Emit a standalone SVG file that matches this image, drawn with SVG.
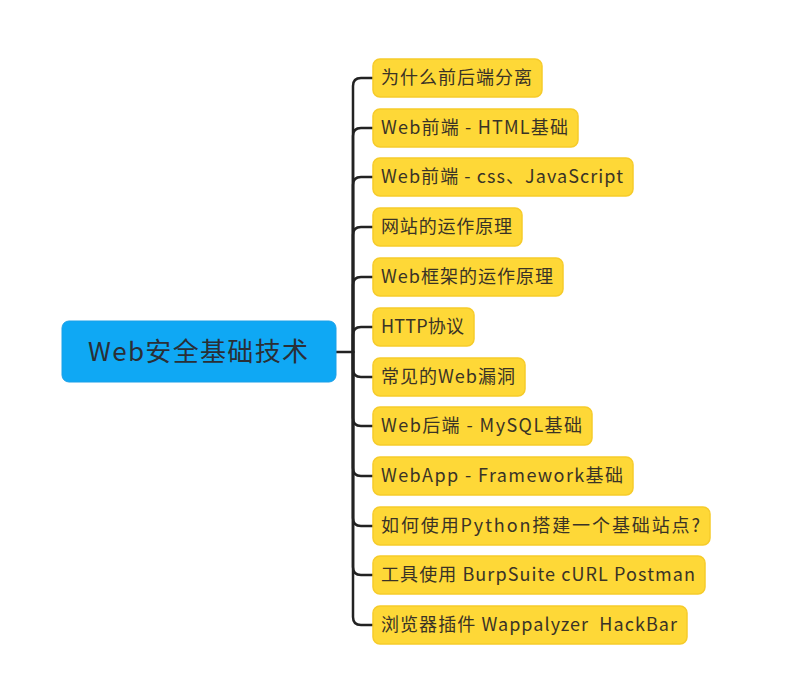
<svg xmlns="http://www.w3.org/2000/svg" width="799" height="697" viewBox="0 0 799 697">
<style>
.n rect{fill:#FED837;stroke:#F6CB2A;stroke-width:1.5}
.n text{font-family:"Noto Sans CJK SC","Noto Sans",sans-serif;font-size:18px;fill:#3a3326}
.root rect{fill:#0FA8F4;stroke:#1BA0E8;stroke-width:1}
.root text{font-family:"Noto Sans CJK SC","Noto Sans",sans-serif;font-size:26px;fill:#2a2f36}
.c path{fill:none;stroke:#222;stroke-width:2.5;stroke-linecap:round}
</style>
<rect width="799" height="697" fill="#fff"/>
<g class="c" id="connectors">
<path d="M336,352 H353"/>
<path d="M353,352 V86 Q353,78 361,78 H373"/>
<path d="M353,352 V136 Q353,128 361,128 H373"/>
<path d="M353,352 V185 Q353,177 361,177 H373"/>
<path d="M353,352 V235 Q353,227 361,227 H373"/>
<path d="M353,352 V285 Q353,277 361,277 H373"/>
<path d="M353,352 V335 Q353,327 361,327 H373"/>
<path d="M353,352 V369 Q353,377 361,377 H373"/>
<path d="M353,352 V418 Q353,426 361,426 H373"/>
<path d="M353,352 V468 Q353,476 361,476 H373"/>
<path d="M353,352 V518 Q353,526 361,526 H373"/>
<path d="M353,352 V567 Q353,575 361,575 H373"/>
<path d="M353,352 V617 Q353,625 361,625 H373"/>
</g>
<g class="root" id="root"><rect x="62" y="321" width="274" height="61" rx="7"/><text x="88" y="361" textLength="220" lengthAdjust="spacing">Web安全基础技术</text></g>
<g class="n" id="n1"><rect x="373" y="59" width="169" height="38" rx="7"/><text x="381" y="84" textLength="151" lengthAdjust="spacing">为什么前后端分离</text></g>
<g class="n" id="n2"><rect x="373" y="109" width="205" height="38" rx="7"/><text x="381" y="134" textLength="187" lengthAdjust="spacing">Web前端 - HTML基础</text></g>
<g class="n" id="n3"><rect x="373" y="158" width="260" height="38" rx="7"/><text x="381" y="183" textLength="242" lengthAdjust="spacing">Web前端 - css、JavaScript</text></g>
<g class="n" id="n4"><rect x="373" y="208" width="149" height="38" rx="7"/><text x="381" y="233" textLength="131" lengthAdjust="spacing">网站的运作原理</text></g>
<g class="n" id="n5"><rect x="373" y="258" width="190" height="38" rx="7"/><text x="381" y="283" textLength="172" lengthAdjust="spacing">Web框架的运作原理</text></g>
<g class="n" id="n6"><rect x="373" y="308" width="101" height="38" rx="7"/><text x="381" y="333" textLength="83" lengthAdjust="spacing">HTTP协议</text></g>
<g class="n" id="n7"><rect x="373" y="358" width="152" height="38" rx="7"/><text x="381" y="383" textLength="134" lengthAdjust="spacing">常见的Web漏洞</text></g>
<g class="n" id="n8"><rect x="373" y="407" width="219" height="38" rx="7"/><text x="381" y="432" textLength="201" lengthAdjust="spacing">Web后端 - MySQL基础</text></g>
<g class="n" id="n9"><rect x="373" y="457" width="260" height="38" rx="7"/><text x="381" y="482" textLength="242" lengthAdjust="spacing">WebApp - Framework基础</text></g>
<g class="n" id="n10"><rect x="373" y="507" width="337" height="38" rx="7"/><text x="381" y="532" textLength="319" lengthAdjust="spacing">如何使用Python搭建一个基础站点?</text></g>
<g class="n" id="n11"><rect x="373" y="556" width="332" height="38" rx="7"/><text x="381" y="581" textLength="314" lengthAdjust="spacing">工具使用 BurpSuite cURL Postman</text></g>
<g class="n" id="n12"><rect x="373" y="606" width="314" height="38" rx="7"/><text x="381" y="631" textLength="296" lengthAdjust="spacing" xml:space="preserve" style="white-space:pre">浏览器插件 Wappalyzer  HackBar</text></g>
</svg>
